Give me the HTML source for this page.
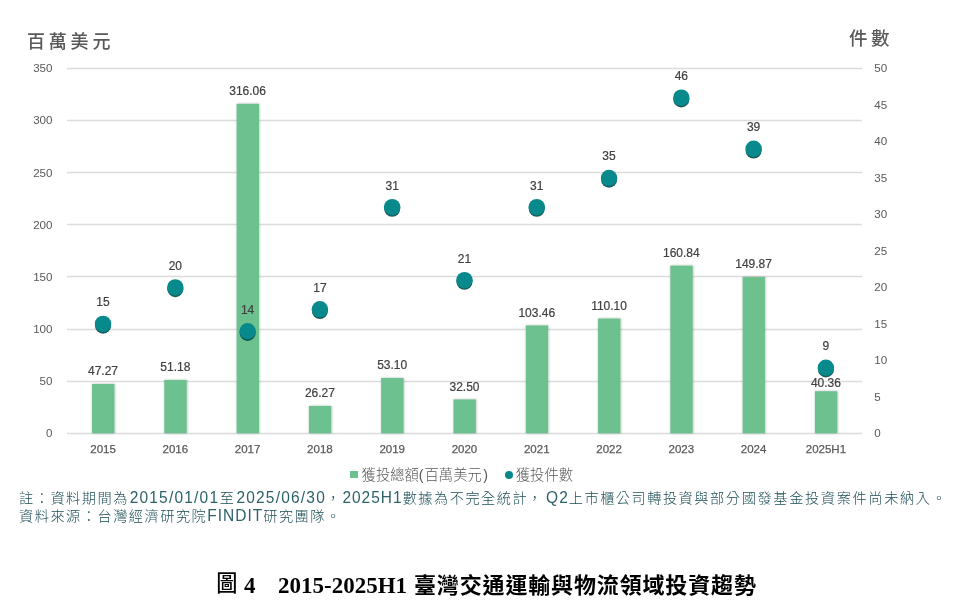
<!DOCTYPE html>
<html><head><meta charset="utf-8"><style>
html,body{margin:0;padding:0;background:#fff;}
body{width:961px;height:607px;position:relative;overflow:hidden;}
.wrap{position:absolute;left:0;top:0;width:961px;height:607px;will-change:transform;}
svg{position:absolute;left:0;top:0;}
.ax{font-family:"Liberation Sans",sans-serif;font-size:11.6px;fill:#595959;}
.xl{font-family:"Liberation Sans",sans-serif;font-size:11.5px;fill:#595959;stroke:#595959;stroke-width:0.25px;}
.vl{font-family:"Liberation Sans",sans-serif;font-size:12px;fill:#404040;stroke:#404040;stroke-width:0.2px;}
.t{position:absolute;white-space:nowrap;}
#ytl{left:27px;top:29.6px;font-family:"Liberation Sans","Noto Sans CJK TC",sans-serif;font-size:18px;font-weight:500;color:#595959;letter-spacing:3.8px;line-height:24px;}
#ytr{left:849px;top:26.7px;font-family:"Liberation Sans","Noto Sans CJK TC",sans-serif;font-size:18.5px;font-weight:500;color:#595959;letter-spacing:3.4px;line-height:24px;}
.lg{top:465.7px;font-family:"Liberation Sans","Noto Sans CJK TC",sans-serif;font-size:14.3px;font-weight:300;color:#595959;line-height:18px;}
.sq{position:absolute;left:350.2px;top:470.8px;width:7.8px;height:7.2px;background:#6cc18f;}
.ci{position:absolute;left:504.6px;top:470.6px;width:8.6px;height:8.6px;border-radius:50%;background:#08898c;}
.note{left:19px;font-family:"Liberation Sans","Noto Sans CJK TC",sans-serif;font-size:14.2px;font-weight:300;color:#1a4d55;letter-spacing:1.5px;line-height:20px;}
.note .l{color:#2c6269;font-size:15.5px;letter-spacing:1.2px;display:inline-block;transform:scaleY(1.06);transform-origin:50% 76%;}
.note .l2{color:#2c6269;font-size:15.5px;letter-spacing:1.0px;display:inline-block;transform:scaleY(1.06);transform-origin:50% 76%;}
#n1{top:487.6px;}
#n2{top:506px;}
.cp{top:568px;font-weight:bold;color:#000;line-height:30px;}
.cj{font-family:"Noto Sans CJK TC",sans-serif;font-size:22px;letter-spacing:0.85px;}
.cl{font-family:"Liberation Serif",serif;font-size:23px;}
</style></head><body><div class="wrap">
<svg width="961" height="607" viewBox="0 0 961 607">
<defs>
<filter id="blur" x="-50%" y="-50%" width="200%" height="200%"><feGaussianBlur stdDeviation="0.7"/></filter>
<filter id="bs" x="-20%" y="-5%" width="140%" height="110%"><feDropShadow dx="0.4" dy="0" stdDeviation="1.0" flood-color="#000" flood-opacity="0.3"/></filter>
</defs>
<line x1="66.9" x2="862.05" y1="433.50" y2="433.50" stroke="#dcdcdc" stroke-width="1.3"/>
<text x="52.5" y="437.20" text-anchor="end" class="ax">0</text>
<line x1="66.9" x2="862.05" y1="381.50" y2="381.50" stroke="#dcdcdc" stroke-width="1.3"/>
<text x="52.5" y="385.07" text-anchor="end" class="ax">50</text>
<line x1="66.9" x2="862.05" y1="329.50" y2="329.50" stroke="#dcdcdc" stroke-width="1.3"/>
<text x="52.5" y="332.94" text-anchor="end" class="ax">100</text>
<line x1="66.9" x2="862.05" y1="276.50" y2="276.50" stroke="#dcdcdc" stroke-width="1.3"/>
<text x="52.5" y="280.81" text-anchor="end" class="ax">150</text>
<line x1="66.9" x2="862.05" y1="224.50" y2="224.50" stroke="#dcdcdc" stroke-width="1.3"/>
<text x="52.5" y="228.69" text-anchor="end" class="ax">200</text>
<line x1="66.9" x2="862.05" y1="172.50" y2="172.50" stroke="#dcdcdc" stroke-width="1.3"/>
<text x="52.5" y="176.56" text-anchor="end" class="ax">250</text>
<line x1="66.9" x2="862.05" y1="120.50" y2="120.50" stroke="#dcdcdc" stroke-width="1.3"/>
<text x="52.5" y="124.43" text-anchor="end" class="ax">300</text>
<line x1="66.9" x2="862.05" y1="68.50" y2="68.50" stroke="#dcdcdc" stroke-width="1.3"/>
<text x="52.5" y="72.30" text-anchor="end" class="ax">350</text>
<text x="874.3" y="437.20" class="ax">0</text>
<text x="874.3" y="400.71" class="ax">5</text>
<text x="874.3" y="364.22" class="ax">10</text>
<text x="874.3" y="327.73" class="ax">15</text>
<text x="874.3" y="291.24" class="ax">20</text>
<text x="874.3" y="254.75" class="ax">25</text>
<text x="874.3" y="218.26" class="ax">30</text>
<text x="874.3" y="181.77" class="ax">35</text>
<text x="874.3" y="145.28" class="ax">40</text>
<text x="874.3" y="108.79" class="ax">45</text>
<text x="874.3" y="72.30" class="ax">50</text>
<rect x="92.04" y="384.02" width="22.4" height="49.28" fill="#6cc18f" filter="url(#bs)"/>
<rect x="164.33" y="379.94" width="22.4" height="53.36" fill="#6cc18f" filter="url(#bs)"/>
<rect x="236.62" y="103.78" width="22.4" height="329.52" fill="#6cc18f" filter="url(#bs)"/>
<rect x="308.90" y="405.91" width="22.4" height="27.39" fill="#6cc18f" filter="url(#bs)"/>
<rect x="381.19" y="377.94" width="22.4" height="55.36" fill="#6cc18f" filter="url(#bs)"/>
<rect x="453.48" y="399.42" width="22.4" height="33.88" fill="#6cc18f" filter="url(#bs)"/>
<rect x="525.76" y="325.44" width="22.4" height="107.86" fill="#6cc18f" filter="url(#bs)"/>
<rect x="598.05" y="318.51" width="22.4" height="114.79" fill="#6cc18f" filter="url(#bs)"/>
<rect x="670.33" y="265.61" width="22.4" height="167.69" fill="#6cc18f" filter="url(#bs)"/>
<rect x="742.62" y="277.05" width="22.4" height="156.25" fill="#6cc18f" filter="url(#bs)"/>
<rect x="814.91" y="391.22" width="22.4" height="42.08" fill="#6cc18f" filter="url(#bs)"/>
<text x="103.04" y="375.12" text-anchor="middle" class="vl">47.27</text>
<text x="103.04" y="452.70" text-anchor="middle" class="xl">2015</text>
<text x="175.33" y="371.04" text-anchor="middle" class="vl">51.18</text>
<text x="175.33" y="452.70" text-anchor="middle" class="xl">2016</text>
<text x="247.62" y="94.88" text-anchor="middle" class="vl">316.06</text>
<text x="247.62" y="452.70" text-anchor="middle" class="xl">2017</text>
<text x="319.90" y="397.01" text-anchor="middle" class="vl">26.27</text>
<text x="319.90" y="452.70" text-anchor="middle" class="xl">2018</text>
<text x="392.19" y="369.04" text-anchor="middle" class="vl">53.10</text>
<text x="392.19" y="452.70" text-anchor="middle" class="xl">2019</text>
<text x="464.48" y="390.52" text-anchor="middle" class="vl">32.50</text>
<text x="464.48" y="452.70" text-anchor="middle" class="xl">2020</text>
<text x="536.76" y="316.54" text-anchor="middle" class="vl">103.46</text>
<text x="536.76" y="452.70" text-anchor="middle" class="xl">2021</text>
<text x="609.05" y="309.61" text-anchor="middle" class="vl">110.10</text>
<text x="609.05" y="452.70" text-anchor="middle" class="xl">2022</text>
<text x="681.33" y="256.71" text-anchor="middle" class="vl">160.84</text>
<text x="681.33" y="452.70" text-anchor="middle" class="xl">2023</text>
<text x="753.62" y="268.15" text-anchor="middle" class="vl">149.87</text>
<text x="753.62" y="452.70" text-anchor="middle" class="xl">2024</text>
<text x="825.91" y="387.40" text-anchor="middle" class="vl">40.36</text>
<text x="825.91" y="452.70" text-anchor="middle" class="xl">2025H1</text>
<circle cx="103.04" cy="325.63" r="8.0" fill="#064a48" opacity="0.9" filter="url(#blur)"/>
<circle cx="103.04" cy="323.93" r="8.25" fill="#08898c"/>
<text x="103.04" y="306.43" text-anchor="middle" class="vl">15</text>
<circle cx="175.33" cy="289.14" r="8.0" fill="#064a48" opacity="0.9" filter="url(#blur)"/>
<circle cx="175.33" cy="287.44" r="8.25" fill="#08898c"/>
<text x="175.33" y="269.94" text-anchor="middle" class="vl">20</text>
<circle cx="247.62" cy="332.93" r="8.0" fill="#064a48" opacity="0.9" filter="url(#blur)"/>
<circle cx="247.62" cy="331.23" r="8.25" fill="#08898c"/>
<text x="247.62" y="313.73" text-anchor="middle" class="vl">14</text>
<circle cx="319.90" cy="311.03" r="8.0" fill="#064a48" opacity="0.9" filter="url(#blur)"/>
<circle cx="319.90" cy="309.33" r="8.25" fill="#08898c"/>
<text x="319.90" y="291.83" text-anchor="middle" class="vl">17</text>
<circle cx="392.19" cy="208.86" r="8.0" fill="#064a48" opacity="0.9" filter="url(#blur)"/>
<circle cx="392.19" cy="207.16" r="8.25" fill="#08898c"/>
<text x="392.19" y="189.66" text-anchor="middle" class="vl">31</text>
<circle cx="464.48" cy="281.84" r="8.0" fill="#064a48" opacity="0.9" filter="url(#blur)"/>
<circle cx="464.48" cy="280.14" r="8.25" fill="#08898c"/>
<text x="464.48" y="262.64" text-anchor="middle" class="vl">21</text>
<circle cx="536.76" cy="208.86" r="8.0" fill="#064a48" opacity="0.9" filter="url(#blur)"/>
<circle cx="536.76" cy="207.16" r="8.25" fill="#08898c"/>
<text x="536.76" y="189.66" text-anchor="middle" class="vl">31</text>
<circle cx="609.05" cy="179.67" r="8.0" fill="#064a48" opacity="0.9" filter="url(#blur)"/>
<circle cx="609.05" cy="177.97" r="8.25" fill="#08898c"/>
<text x="609.05" y="160.47" text-anchor="middle" class="vl">35</text>
<circle cx="681.33" cy="99.39" r="8.0" fill="#064a48" opacity="0.9" filter="url(#blur)"/>
<circle cx="681.33" cy="97.69" r="8.25" fill="#08898c"/>
<text x="681.33" y="80.19" text-anchor="middle" class="vl">46</text>
<circle cx="753.62" cy="150.48" r="8.0" fill="#064a48" opacity="0.9" filter="url(#blur)"/>
<circle cx="753.62" cy="148.78" r="8.25" fill="#08898c"/>
<text x="753.62" y="131.28" text-anchor="middle" class="vl">39</text>
<circle cx="825.91" cy="369.42" r="8.0" fill="#064a48" opacity="0.9" filter="url(#blur)"/>
<circle cx="825.91" cy="367.72" r="8.25" fill="#08898c"/>
<text x="825.91" y="350.22" text-anchor="middle" class="vl">9</text>
</svg>
<div class="t" id="ytl">百萬美元</div>
<div class="t" id="ytr">件數</div>
<div class="sq"></div>
<div class="t lg" id="leg1" style="left:361.6px">獲投總額<span style="margin:0 1px 0 0">(</span>百萬美元<span style="margin-left:1.4px">)</span></div>
<div class="ci"></div>
<div class="t lg" id="leg2" style="left:515.8px">獲投件數</div>
<div class="t note" id="n1">註：資料期間<span style="letter-spacing:2.3px">為</span><span class="l">2015/01/01</span><span style="margin-left:0.6px;letter-spacing:2.4px">至</span><span class="l">2025/06/30</span><span style="letter-spacing:2.2px">，</span><span class="l2">2025H1</span>數據為不完全統<span style="letter-spacing:0.9px">計</span><span style="letter-spacing:4.3px">，</span><span class="l2">Q2</span>上市櫃公司轉投資與<span style="letter-spacing:1.65px">部分國發基金投資案件尚未納入</span>。</div>
<div class="t note" id="n2">資料來源：台灣經濟研究院<span class="l2">FINDIT</span>研究團隊。</div>
<div class="t cp cj" id="cap1" style="left:216.3px;font-size:21.2px;font-weight:500;top:566.7px;transform:scaleY(1.06);transform-origin:50% 80%">圖</div>
<div class="t cp cl" id="cap2" style="left:244px;top:571px">4</div>
<div class="t cp cl" id="cap3" style="left:278px;top:571px">2015-2025H1</div>
<div class="t cp cj" id="cap4" style="left:414px">臺灣交通運輸與物流領域投資趨勢</div>
</div></body></html>
